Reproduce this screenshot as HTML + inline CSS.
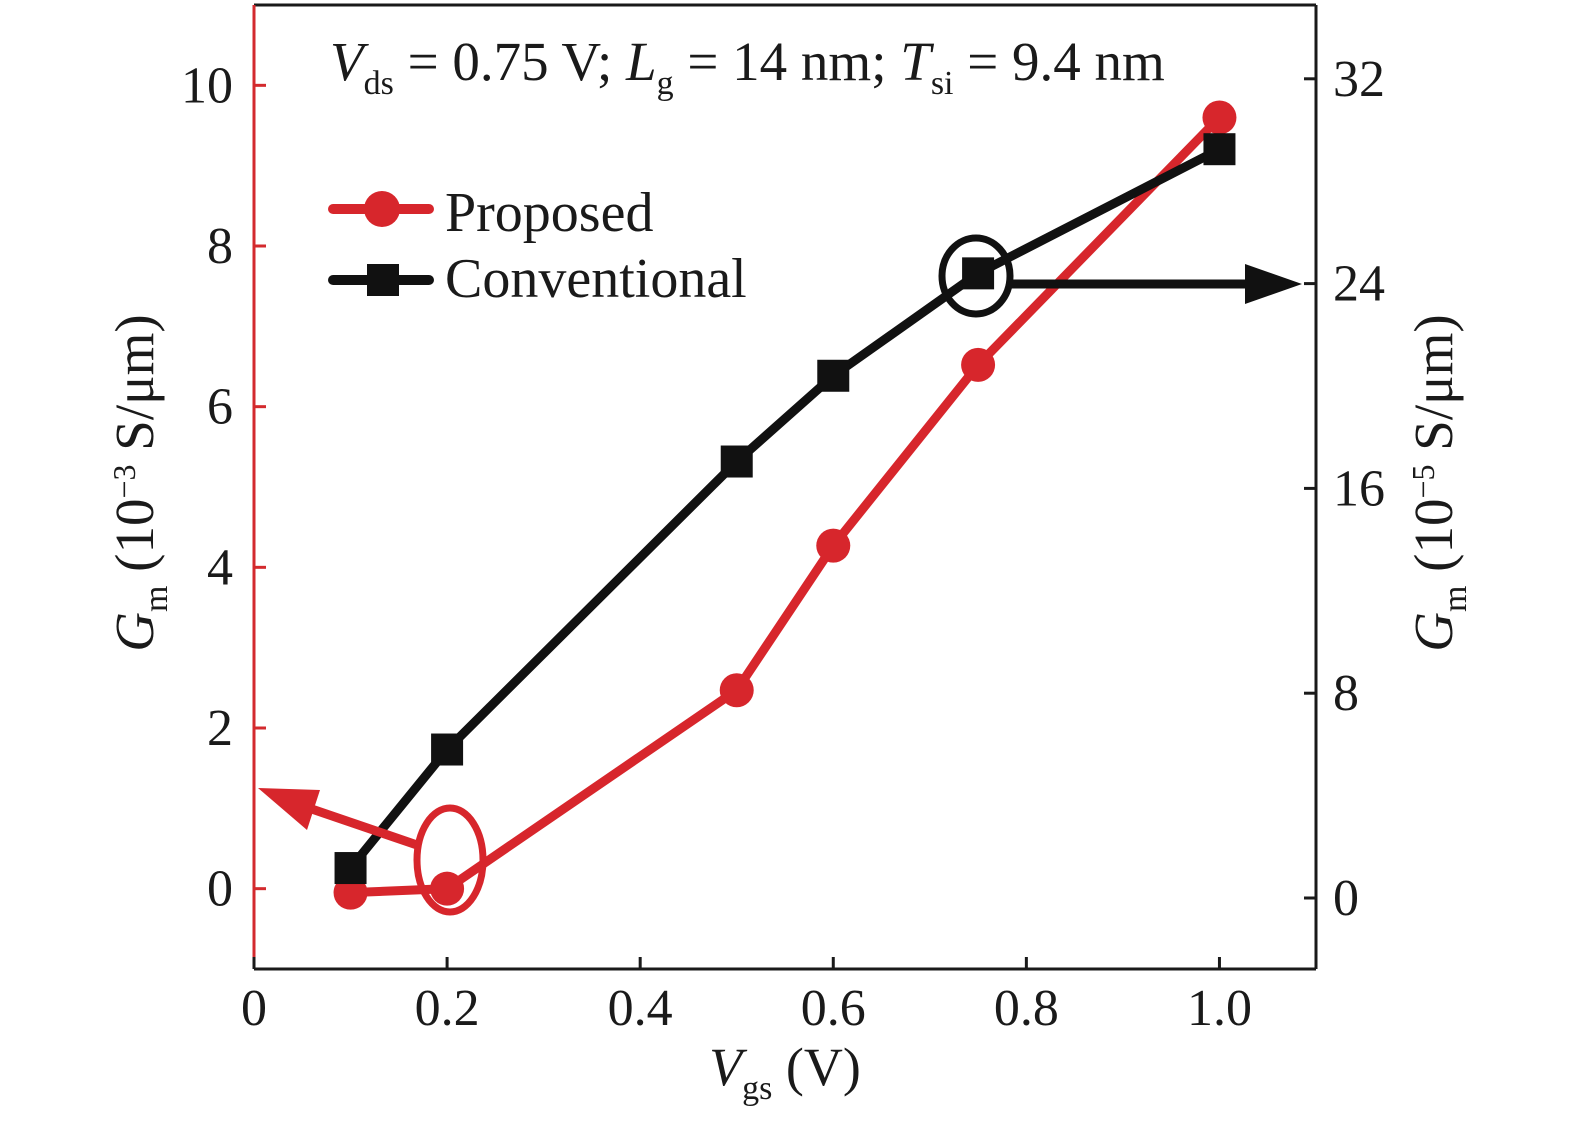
<!DOCTYPE html>
<html><head><meta charset="utf-8"><style>
body{margin:0;background:#fff;}
svg text{font-family:"Liberation Serif",serif;fill:#1a1a1a;}
</style></head><body>
<svg id="chart" width="1575" height="1122" viewBox="0 0 1575 1122" xmlns="http://www.w3.org/2000/svg">
<g id="axes"></g>
<g id="marks"></g>
</svg>
<script>
const xTicks=[0,0.2,0.4,0.6,0.8,1.0];
const xTickLabels=["0","0.2","0.4","0.6","0.8","1.0"];
const leftTicks=[0,2,4,6,8,10];
const rightTicks=[0,8,16,24,32];
const vgs=[0.1,0.2,0.5,0.6,0.75,1.0];
const proposed=[-0.05,0.0,2.47,4.27,6.52,9.6];
const conventional=[1.17,5.8,17.05,20.4,24.4,29.25];

const L=254,R=1316,T=5,B=969;
const xs=v=>L+(v-0)/(1.1)*(R-L);
const yl=v=>B-(v+1)/12*(B-T);
const yr=v=>898-v*25.6;
const NS="http://www.w3.org/2000/svg";
function mk(tag,attrs,parent,txt){const e=document.createElementNS(NS,tag);for(const k in attrs)e.setAttribute(k,attrs[k]);if(txt!==undefined)e.textContent=txt;parent.appendChild(e);return e;}
const ax=document.getElementById('axes'),mg=document.getElementById('marks');

let e;
e=mk('line',{x1:L,y1:T,x2:R,y2:T,stroke:'#1a1a1a','stroke-width':3},ax);

e=mk('line',{x1:L,y1:B,x2:R,y2:B,stroke:'#1a1a1a','stroke-width':3},ax);

e=mk('line',{x1:R,y1:T,x2:R,y2:B,stroke:'#1a1a1a','stroke-width':3},ax);

e=mk('line',{x1:L,y1:T,x2:L,y2:B,stroke:'#d32a2e','stroke-width':3},ax);


xTicks.forEach((v,i)=>{
 e=mk('line',{x1:xs(v),y1:B,x2:xs(v),y2:B-12,stroke:'#1a1a1a','stroke-width':3},ax);
 
 e=mk('text',{x:xs(v),y:1025,'font-size':52,'text-anchor':'middle'},ax,xTickLabels[i]);
 
});
leftTicks.forEach(v=>{
 e=mk('line',{x1:L,y1:yl(v),x2:L+12,y2:yl(v),stroke:'#d32a2e','stroke-width':3},ax);
 
 e=mk('text',{x:233,y:yl(v)+17,'font-size':52,'text-anchor':'end'},ax,String(v));
 
});
rightTicks.forEach(v=>{
 e=mk('line',{x1:R,y1:yr(v),x2:R-12,y2:yr(v),stroke:'#1a1a1a','stroke-width':3},ax);
 
 e=mk('text',{x:1333,y:yr(v)+17,'font-size':52,'text-anchor':'start'},ax,String(v));
 
});

// axis titles
e=mk('text',{x:785,y:1085,'font-size':54,'text-anchor':'middle'},ax);
e.innerHTML='<tspan font-style="italic">V</tspan><tspan font-size="34" dy="14">gs</tspan><tspan dy="-14"> (V)</tspan>';

e=mk('text',{x:0,y:0,'font-size':55,'text-anchor':'middle',transform:'translate(153,483) rotate(-90)'},ax);
e.innerHTML='<tspan font-style="italic">G</tspan><tspan font-size="34" dy="14">m</tspan><tspan dy="-14"> (10</tspan><tspan font-size="32" dy="-18">−3</tspan><tspan dy="18"> S/μm)</tspan>';

e=mk('text',{x:0,y:0,'font-size':55,'text-anchor':'middle',transform:'translate(1452,483) rotate(-90)'},ax);
e.innerHTML='<tspan font-style="italic">G</tspan><tspan font-size="34" dy="14">m</tspan><tspan dy="-14"> (10</tspan><tspan font-size="32" dy="-18">−5</tspan><tspan dy="18"> S/μm)</tspan>';


// annotation
e=mk('text',{x:330,y:80,'font-size':55},ax);
e.innerHTML='<tspan font-style="italic">V</tspan><tspan font-size="34" dy="14">ds</tspan><tspan dy="-14"> = 0.75 V; </tspan><tspan font-style="italic">L</tspan><tspan font-size="34" dy="14">g</tspan><tspan dy="-14"> = 14 nm; </tspan><tspan font-style="italic">T</tspan><tspan font-size="34" dy="14">si</tspan><tspan dy="-14"> = 9.4 nm</tspan>';


// series
const RED='#d7262c',BLK='#111';
let pts=vgs.map((v,i)=>xs(v)+','+yl(proposed[i])).join(' ');
e=mk('polyline',{points:pts,fill:'none',stroke:RED,'stroke-width':9},mg);

pts=vgs.map((v,i)=>xs(v)+','+yr(conventional[i])).join(' ');
e=mk('polyline',{points:pts,fill:'none',stroke:BLK,'stroke-width':9},mg);

vgs.forEach((v,i)=>{
 e=mk('circle',{cx:xs(v),cy:yl(proposed[i]),r:17,fill:RED},mg);
 
});
vgs.forEach((v,i)=>{
 e=mk('rect',{x:xs(v)-16,y:yr(conventional[i])-16,width:32,height:32,fill:BLK},mg);
 
});

// callouts
e=mk('ellipse',{cx:450,cy:860,rx:33,ry:52,fill:'none',stroke:RED,'stroke-width':7},mg);

e=mk('line',{x1:417,y1:845,x2:300,y2:805,stroke:RED,'stroke-width':9},mg);

e=mk('polygon',{points:'258,788 320,790 307,830',fill:RED},mg);

e=mk('ellipse',{cx:976,cy:276,rx:34,ry:38,fill:'none',stroke:BLK,'stroke-width':7},mg);

e=mk('line',{x1:1010,y1:284,x2:1250,y2:284,stroke:BLK,'stroke-width':9},mg);

e=mk('polygon',{points:'1302,284 1245,264 1245,304',fill:BLK},mg);


// legend
e=mk('line',{x1:333,y1:209,x2:429,y2:209,stroke:RED,'stroke-width':10,'stroke-linecap':'round'},mg);

e=mk('circle',{cx:382,cy:209,r:18,fill:RED},mg);

e=mk('text',{x:445,y:231,'font-size':56},mg,'Proposed');

e=mk('line',{x1:333,y1:280,x2:429,y2:280,stroke:BLK,'stroke-width':10,'stroke-linecap':'round'},mg);

e=mk('rect',{x:367,y:264,width:32,height:32,fill:BLK},mg);

e=mk('text',{x:445,y:297,'font-size':56},mg,'Conventional');

</script>
</body></html>
